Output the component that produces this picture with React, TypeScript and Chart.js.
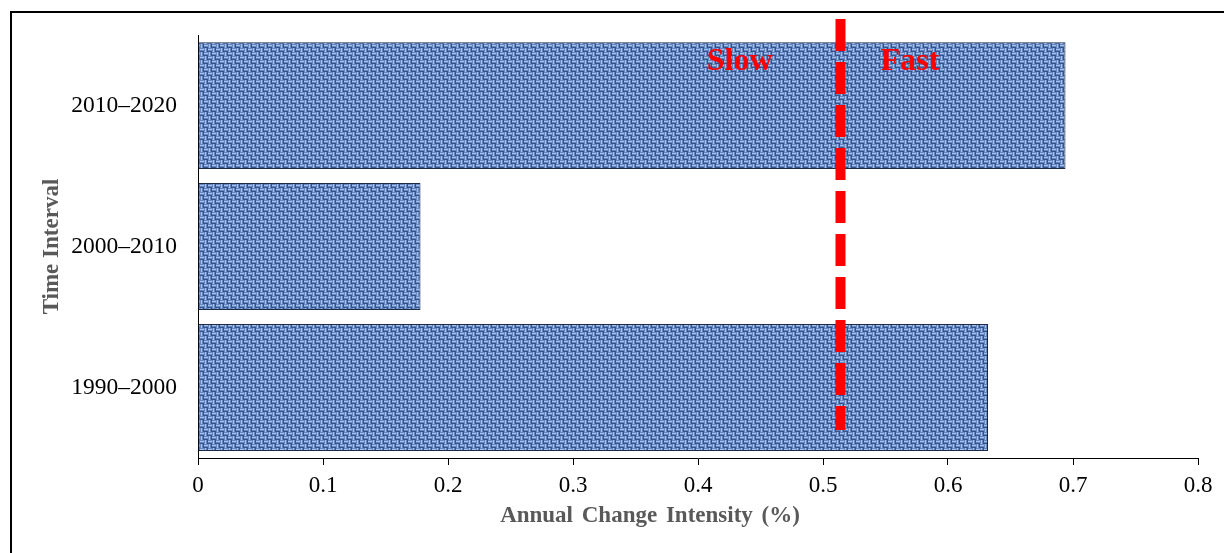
import React, { useEffect, useRef } from 'react';
import { Chart, registerables } from 'chart.js';

Chart.register(...registerables);

const categories = ['2010–2020', '2000–2010', '1990–2000'];
const intensity = [0.694, 0.178, 0.632];
const xTickLabels = ['0', '0.1', '0.2', '0.3', '0.4', '0.5', '0.6', '0.7', '0.8'];
const threshold = [0.514];
const zoneLabels = ['Slow', 'Fast'];
const xTitle = 'Annual Change Intensity (%)';
const yTitle = 'Time Interval';

const SERIF = "'Liberation Serif', 'Times New Roman', Times, serif";

function makeWeave(): CanvasPattern | string {
  const cell = 4;
  const n = 4;
  const size = cell * n;
  const c = document.createElement('canvas');
  c.width = size;
  c.height = size;
  const g = c.getContext('2d');
  if (!g) return '#6586c0';
  const mid = '#6587c2';
  const light = '#a6c1ec';
  const dark = '#33528e';
  g.fillStyle = mid;
  g.fillRect(0, 0, size, size);
  for (let i = 0; i < n; i++) {
    for (let j = 0; j < n; j++) {
      const x = i * cell;
      const y = j * cell;
      if ((i + j) % 2 === 0) {
        g.fillStyle = light;
        g.fillRect(x, y + 1, cell, 1);
        g.fillStyle = dark;
        g.fillRect(x, y + 3, cell, 1);
      } else {
        g.fillStyle = light;
        g.fillRect(x + 1, y, 1, cell);
        g.fillStyle = dark;
        g.fillRect(x + 3, y, 1, cell);
      }
    }
  }
  return g.createPattern(c, 'repeat') ?? '#6586c0';
}

const overlayPlugin = {
  id: 'overlay',
  afterDatasetsDraw(chart: any) {
    const { ctx, chartArea, scales } = chart;
    const x = scales.x.getPixelForValue(threshold[0]);
    ctx.save();
    ctx.strokeStyle = '#ff0000';
    ctx.lineWidth = 10;
    ctx.setLineDash([32, 11]);
    ctx.beginPath();
    ctx.moveTo(x, chartArea.top - 16);
    ctx.lineTo(x, chartArea.bottom - 28);
    ctx.stroke();
    ctx.setLineDash([]);

    ctx.fillStyle = '#ff0000';
    ctx.font = `bold 32px ${SERIF}`;
    ctx.textBaseline = 'alphabetic';
    ctx.textAlign = 'right';
    ctx.fillText(zoneLabels[0], x - 68, chartArea.top + 35);
    ctx.textAlign = 'left';
    ctx.fillText(zoneLabels[1], x + 40, chartArea.top + 35);

    ctx.fillStyle = '#595959';
    ctx.font = `bold 23px ${SERIF}`;
    ctx.textAlign = 'center';
    try {
      (ctx as any).wordSpacing = '3px';
    } catch (e) {
      /* ignore */
    }
    ctx.fillText(xTitle, (chartArea.left + chartArea.right) / 2 - 48, chartArea.bottom + 64);
    ctx.restore();
  },
};

export default function App() {
  const ref = useRef<HTMLCanvasElement>(null);

  useEffect(() => {
    if (!ref.current) return;
    const pattern = makeWeave();
    const chart = new Chart(ref.current, {
      type: 'bar',
      data: {
        labels: categories,
        datasets: [
          {
            data: intensity,
            backgroundColor: pattern as any,
            borderColor: '#1c2947',
            borderWidth: 1,
            borderSkipped: false,
            categoryPercentage: 0.9,
            barPercentage: 1,
          },
        ],
      },
      options: {
        indexAxis: 'y',
        responsive: false,
        animation: false,
        layout: { padding: { top: 35, right: 26, left: 0, bottom: 0 } },
        plugins: {
          legend: { display: false },
          tooltip: { enabled: false },
        },
        scales: {
          x: {
            type: 'linear',
            min: 0,
            max: 0.8,
            ticks: {
              stepSize: 0.1,
              color: '#000',
              font: { family: SERIF, size: 23 },
              padding: 7,
              maxRotation: 0,
              autoSkip: false,
              callback: (_v: any, i: number) => xTickLabels[i] ?? '',
            },
            grid: {
              display: true,
              drawOnChartArea: false,
              drawTicks: true,
              tickLength: 7,
              color: '#000',
              lineWidth: 1,
            },
            border: { display: true, color: '#000', width: 1 },
            afterFit: (s: any) => {
              s.height = 95;
            },
          },
          y: {
            ticks: {
              color: '#000',
              font: { family: SERIF, size: 23.5 },
              padding: 21,
            },
            grid: { display: false, drawTicks: false, tickLength: 0 },
            border: { display: true, color: '#000', width: 1 },
            title: {
              display: true,
              text: yTitle,
              color: '#595959',
              font: { family: SERIF, size: 23, weight: 'bold' },
              padding: { top: 38, bottom: 0 },
            },
            afterFit: (s: any) => {
              s.width = 198;
            },
          },
        },
      } as any,
      plugins: [overlayPlugin],
    });
    return () => chart.destroy();
  }, []);

  return (
    <div
      style={{
        position: 'fixed',
        left: 0,
        top: 0,
        width: 1224,
        height: 553,
        overflow: 'hidden',
        background: '#fff',
      }}
    >
      <div
        style={{
          position: 'absolute',
          left: 10,
          top: 11,
          width: 1300,
          height: 600,
          borderTop: '2px solid #000',
          borderLeft: '2px solid #000',
          boxSizing: 'border-box',
        }}
      />
      <canvas
        ref={ref}
        width={1224}
        height={553}
        style={{ position: 'absolute', left: 0, top: 0, width: 1224, height: 553 }}
      />
    </div>
  );
}
